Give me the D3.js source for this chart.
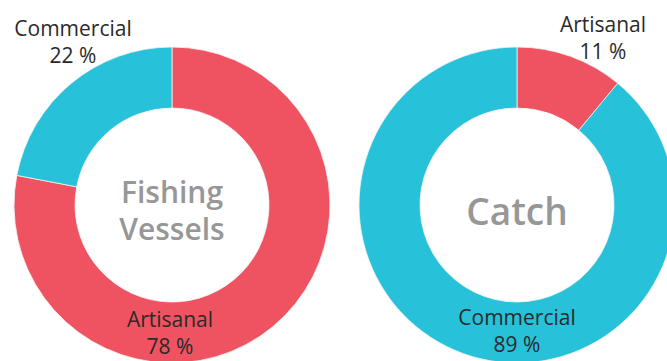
<!DOCTYPE html>
<html>
<head>
<meta charset="utf-8">
<script src="https://cdn.jsdelivr.net/npm/d3@7"></script>
<style>
  html, body { margin: 0; padding: 0; background: #fff; }
  svg { display: block; }
</style>
</head>
<body>
<svg id="chart" width="667" height="361"></svg>
<script>
// ---- data ----
const categories = ["Artisanal", "Commercial"];
const vesselShares = [78, 22];
const catchShares = [11, 89];
const vesselTitle = ["Fishing", "Vessels"];
const catchTitle = ["Catch"];

// ---- layout / style ----
const colors = d3.scaleOrdinal().domain(categories).range(["#ef5261", "#27c1da"]);
const outerR = 158, innerR = 97;
const charts = [
  { cx: 172, cy: 205, values: vesselShares, title: vesselTitle, titleSize: 30, titleY: [-2, 35],
    labelPos: { "Commercial": [-99, -169], "Artisanal": [-2, 122] } },
  { cx: 517, cy: 205, values: catchShares, title: catchTitle, titleSize: 37, titleY: [20],
    labelPos: { "Artisanal": [86, -173], "Commercial": [0, 120] } }
];

const svg = d3.select("#chart");
const pie = d3.pie().sort(null).value(d => d.value);
const arc = d3.arc().innerRadius(innerR).outerRadius(outerR);

charts.forEach(c => {
  const data = categories.map((k, i) => ({ key: k, value: c.values[i] }));
  const g = svg.append("g").attr("transform", `translate(${c.cx},${c.cy})`);
  g.selectAll("path.slice").data(pie(data)).join("path")
    .attr("class", "slice")
    .attr("d", arc)
    .attr("fill", d => colors(d.data.key))
    .attr("stroke", "#f4f4f4")
    .attr("stroke-width", 0.8);

  const t = g.append("text")
    .attr("text-anchor", "middle")
    .attr("font-family", "'Open Sans', sans-serif")
    .attr("font-weight", 600)
    .attr("font-size", c.titleSize)
    .attr("fill", "#979797");
  c.title.forEach((line, i) => {
    t.append("tspan").attr("x", 0).attr("y", c.titleY[i]).text(line);
  });

  data.forEach(d => {
    const [dx, dy] = c.labelPos[d.key];
    const lt = g.append("text")
      .attr("text-anchor", "middle")
      .attr("font-family", "'Open Sans', sans-serif")
      .attr("font-size", 21)
      .attr("fill", "#2a2a2a");
    lt.append("tspan").attr("x", dx).attr("y", dy).text(d.key);
    lt.append("tspan").attr("x", dx).attr("y", dy + 27).text(d.value + " %");
  });
});
</script>
</body>
</html>
